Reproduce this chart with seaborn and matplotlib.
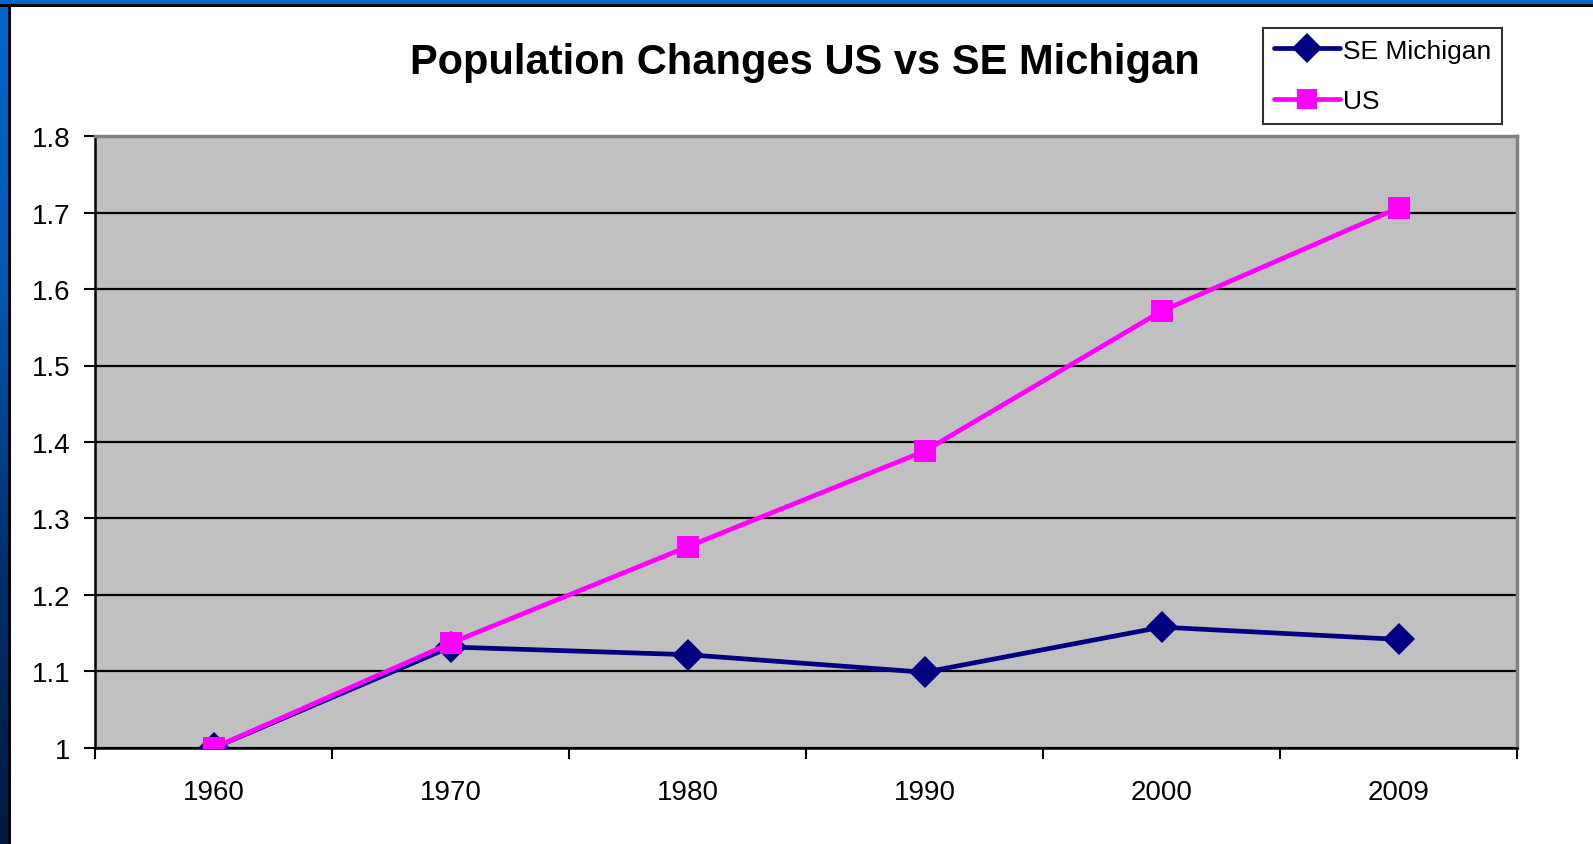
import numpy as np
import pandas as pd
import matplotlib
matplotlib.use('Agg')
import matplotlib.pyplot as plt
import seaborn as sns
from matplotlib.patches import Rectangle
from matplotlib.lines import Line2D
from matplotlib.ticker import FixedLocator, NullFormatter

# data
years = ['1960', '1970', '1980', '1990', '2000', '2009']
se_michigan = [1.0, 1.132, 1.122, 1.099, 1.158, 1.142]
us = [1.0, 1.137, 1.263, 1.388, 1.571, 1.706]
series_names = ['SE Michigan', 'US']

df = pd.DataFrame({
    'pos': list(range(len(years))) * 2,
    'value': se_michigan + us,
    'series': [series_names[0]] * len(years) + [series_names[1]] * len(years),
})

sns.set_style('white')
plt.rcParams['font.family'] = ['Liberation Sans', 'DejaVu Sans']
plt.rcParams['text.color'] = 'black'
plt.rcParams['xtick.color'] = 'black'
plt.rcParams['ytick.color'] = 'black'

W, H = 1593, 845
fig = plt.figure(figsize=(W / 100, H / 100), dpi=100)
fig.patch.set_facecolor('white')

# slide frame: blue band on top, gradient band on the left
fig.patches.append(Rectangle((0, 1 - 5 / H), 1, 5 / H, transform=fig.transFigure,
                             facecolor='#0066CC', edgecolor='none', zorder=0))
fig.patches.append(Rectangle((0, 1 - 7.5 / H), 1, 2.5 / H, transform=fig.transFigure,
                             facecolor='black', edgecolor='none', zorder=1))
gax = fig.add_axes([0, 0, 8 / W, 1 - 5 / H])
grad = np.linspace(0, 1, 256).reshape(-1, 1)
cmap = matplotlib.colors.LinearSegmentedColormap.from_list(
    'frame', ['#001a3d', '#00306e', '#0058b0', '#0066CC'])
gax.imshow(grad, aspect='auto', cmap=cmap, origin='lower', extent=[0, 1, 0, 1])
gax.set_axis_off()
fig.patches.append(Rectangle((8 / W, 0), 2.5 / W, 1 - 5 / H, transform=fig.transFigure,
                             facecolor='black', edgecolor='none', zorder=1))

ax = fig.add_axes([95 / W, (H - 749) / H, (1517 - 95) / W, (749 - 137) / H])
ax.set_facecolor('#C0C0C0')

sns.lineplot(data=df, x='pos', y='value', hue='series', style='series',
             palette={'SE Michigan': '#000080', 'US': '#FF00FF'},
             markers={'SE Michigan': 'D', 'US': 's'}, dashes=False,
             linewidth=3.4, markersize=16, markeredgewidth=0, ax=ax, legend=False,
             zorder=3)

ax.set_xlim(-0.5, len(years) - 0.5)
ax.set_ylim(1.0, 1.8)
ax.set_yticks(np.arange(1.0, 1.81, 0.1))
ax.set_yticklabels(['1' if abs(v - 1) < 1e-9 else f'{v:.1f}' for v in np.arange(1.0, 1.81, 0.1)])
ax.yaxis.grid(True, color='black', linewidth=1.6, zorder=1)
ax.set_axisbelow(True)

# category labels at centres, tick marks at boundaries
ax.xaxis.set_major_locator(FixedLocator(np.arange(-0.5, len(years), 1.0)))
ax.xaxis.set_major_formatter(NullFormatter())
ax.xaxis.set_minor_locator(FixedLocator(np.arange(len(years))))
ax.set_xticklabels(years, minor=True)
ax.tick_params(axis='x', which='major', direction='out', length=8, width=1.5, color='black', bottom=True)
ax.tick_params(axis='x', which='minor', length=0, pad=22, labelsize=20)
ax.tick_params(axis='y', direction='out', length=8, width=1.5, color='black', left=True,
               labelsize=20, pad=10)
ax.set_xlabel('')
ax.set_ylabel('')

for side in ['left', 'bottom']:
    ax.spines[side].set_color('black')
    ax.spines[side].set_linewidth(1.8)
for side in ['top', 'right']:
    ax.spines[side].set_color('#808080')
    ax.spines[side].set_linewidth(2.5)

fig.text(805 / W, 1 - 63 / H, 'Population Changes US vs SE Michigan', ha='center', va='center',
         fontsize=30, fontweight='bold')

handles = [Line2D([], [], color='#000080', marker='D', linewidth=3.4, markersize=15, markeredgewidth=0),
           Line2D([], [], color='#FF00FF', marker='s', linewidth=3.4, markersize=15, markeredgewidth=0)]
leg = fig.legend(handles, series_names, loc='upper left',
                 bbox_to_anchor=(1263 / W, 1 - 29 / H), frameon=True, fancybox=False,
                 fontsize=19, handlelength=2.5, handletextpad=0.15, borderpad=0.4,
                 labelspacing=1.0, borderaxespad=0)
leg.get_frame().set_edgecolor('black')
leg.get_frame().set_linewidth(1.5)

fig.savefig('out.png', dpi=100)
